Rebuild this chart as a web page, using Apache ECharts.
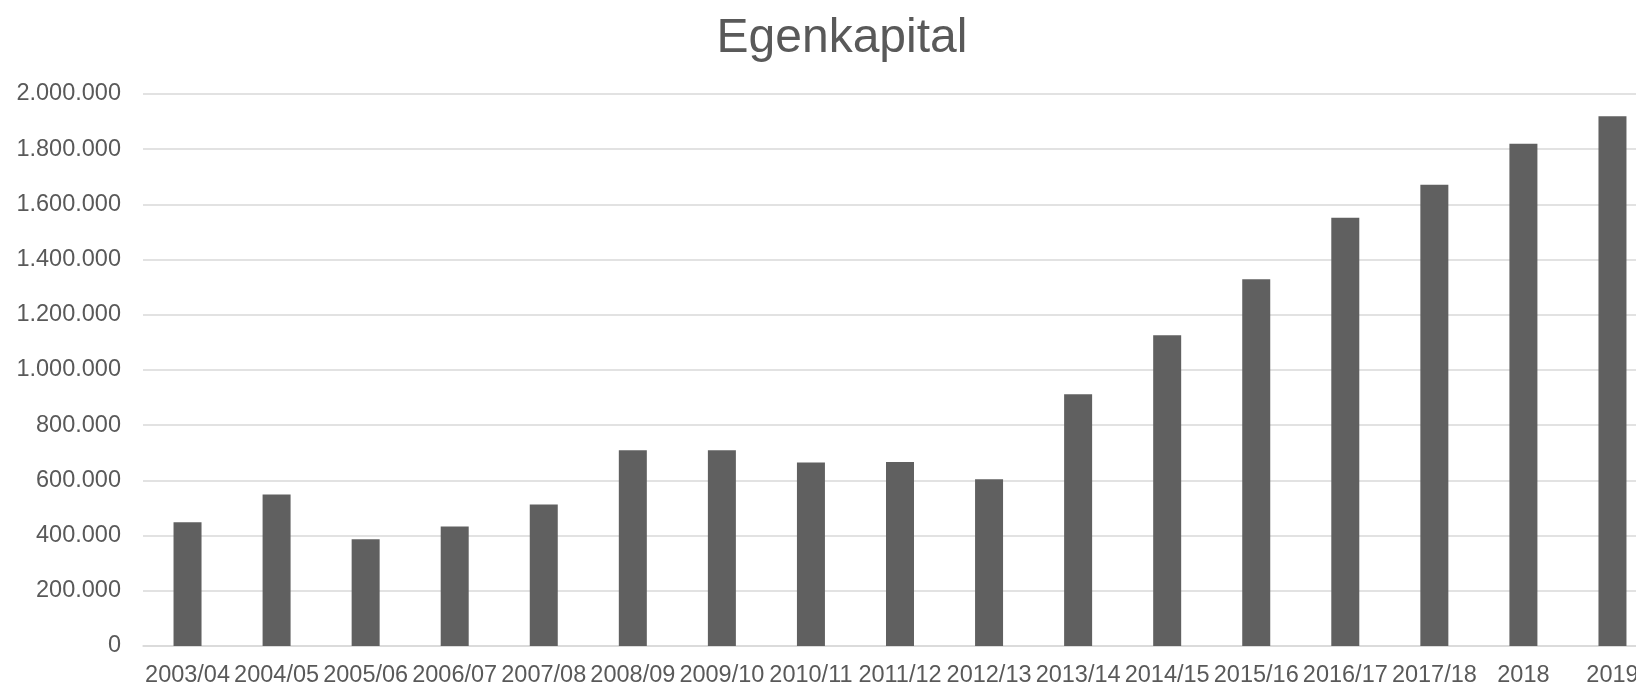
<!DOCTYPE html>
<html>
<head>
<meta charset="utf-8">
<script src="https://cdn.jsdelivr.net/npm/echarts@6/dist/echarts.min.js"></script>
<style>html,body{margin:0;padding:0;background:#fff;overflow:hidden;width:1636px;height:688px;}#c{width:1660px;height:688px;}</style>
</head>
<body>
<div id="c"></div>
<script>
const categories = ['2003/04','2004/05','2005/06','2006/07','2007/08','2008/09','2009/10','2010/11','2011/12','2012/13','2013/14','2014/15','2015/16','2016/17','2017/18','2018','2019'];
const egenkapital = [448000, 549000, 387000, 433000, 513000, 709000, 709000, 665000, 667000, 604000, 912000, 1126000, 1329000, 1552000, 1671000, 1820000, 1919000];
const titleText = 'Egenkapital';

function fmt(v){ return String(Math.round(v)).replace(/\B(?=(\d{3})+(?!\d))/g, '.'); }

const chart = echarts.init(document.getElementById('c'));
chart.setOption({
  animation: false,
  backgroundColor: '#ffffff',
  title: {
    text: titleText,
    left: 837, textAlign: 'center', top: 10,
    textStyle: { fontFamily: 'Liberation Sans', fontSize: 48, fontWeight: 'normal', color: '#595959' }
  },
  grid: { left: 143, right: 3, top: 94, bottom: 41, containLabel: false },
  xAxis: {
    type: 'category',
    data: categories,
    axisLine: { lineStyle: { color: '#d9d9d9', width: 1.5 } },
    axisTick: { show: false },
    axisLabel: { interval: 0, margin: 18, fontFamily: 'Liberation Sans', fontSize: 23.5, color: '#595959' }
  },
  yAxis: {
    type: 'value',
    min: 0, max: 2000000, interval: 200000,
    axisLine: { show: false },
    axisTick: { show: false },
    splitLine: { lineStyle: { color: '#d9d9d9', width: 1.5 } },
    axisLabel: { margin: 22, fontFamily: 'Liberation Sans', fontSize: 23.5, color: '#595959', formatter: fmt }
  },
  series: [{
    type: 'bar',
    data: egenkapital,
    barWidth: 28,
    itemStyle: { color: '#606060' }
  }]
});
</script>
</body>
</html>
